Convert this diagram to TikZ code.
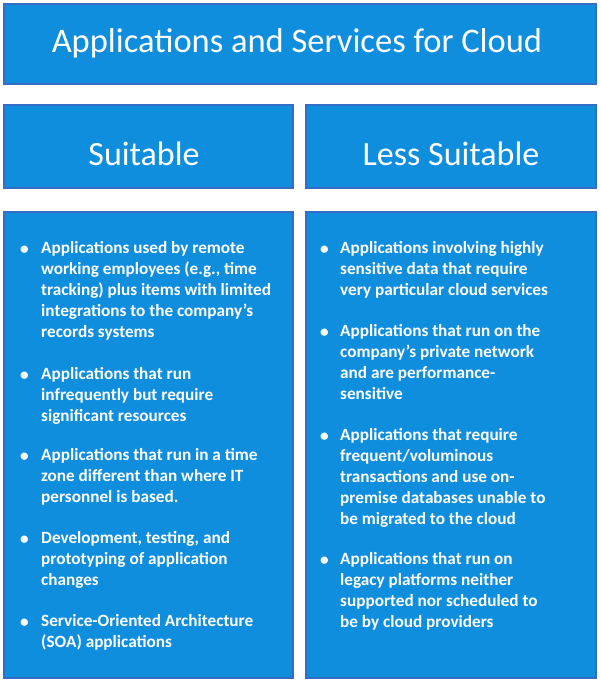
\documentclass[tikz,border=0pt]{standalone}
\usepackage{fontspec}
\setmainfont{Carlito}
\definecolor{boxfill}{RGB}{16,142,222}
\definecolor{boxline}{RGB}{52,108,200}
\begin{document}
\begin{tikzpicture}[x=1pt,y=-1pt,
  panel/.style={fill=boxfill,draw=boxline,line width=1.2pt},
  head/.style={text=white,font=\fontsize{34}{40}\selectfont},
  item/.style={text=white,anchor=north west,align=left,inner sep=0pt,font=\fontsize{17.2}{21}\selectfont\bfseries},
  dot/.style={text=white,anchor=base west,inner sep=0pt,font=\fontsize{17.2}{21}\selectfont\bfseries}]
\useasboundingbox (0,0) rectangle (600,682);
\draw[panel] (4,4) rectangle (596,84);
\node[head,font=\fontsize{34.5}{40}\selectfont] (title) at (297,43) {Applications and Services for Cloud};
\draw[panel] (4,105) rectangle (293,188);
\node[head] (suit) at (144,154) {Suitable};
\draw[panel] (306,105) rectangle (596,188);
\node[head] (less) at (451,154) {Less Suitable};
\draw[panel] (4,212) rectangle (293,678);
\draw[panel] (306,212) rectangle (596,678);
% left
\foreach \y/\t [count=\i] in {254/{Applications used by remote\\working employees (e.g., time\\tracking) plus items with limited\\integrations to the company’s\\records systems},
  380/{Applications that run\\infrequently but require\\significant resources},
  461/{Applications that run in a time\\zone different than where IT\\personnel is based.},
  544/{Development, testing, and\\prototyping of application\\changes},
  627/{Service-Oriented Architecture\\(SOA) applications}}
{ \node[dot] (lb\i) at (20,\y) {•}; \node[item] (lt\i) at (41,\y-12.5) {\t}; }
% right
\foreach \y/\t [count=\i] in {254/{Applications involving highly\\sensitive data that require\\very particular cloud services},
  337/{Applications that run on the\\company’s private network\\and are performance-\\sensitive},
  441/{Applications that require\\frequent/voluminous\\transactions and use on-\\premise databases unable to\\be migrated to the cloud},
  565/{Applications that run on\\legacy platforms neither\\supported nor scheduled to\\be by cloud providers}}
{ \node[dot] (rb\i) at (320,\y) {•}; \node[item] (rt\i) at (340,\y-12.5) {\t}; }
\end{tikzpicture}
\end{document}
